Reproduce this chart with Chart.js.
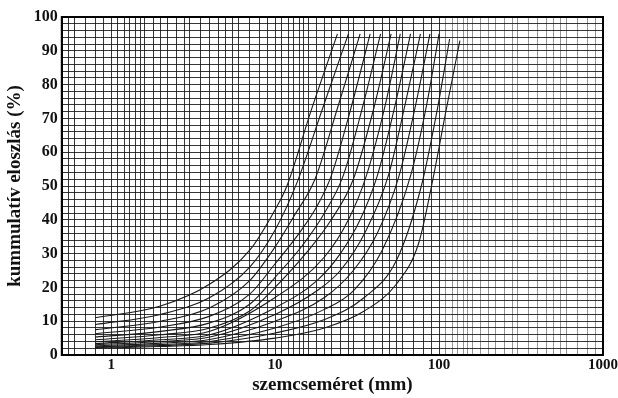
<!DOCTYPE html>
<html>
<head>
<meta charset="utf-8">
<script src="https://cdn.jsdelivr.net/npm/chart.js@4/dist/chart.umd.min.js"></script>
<style>
  html, body { margin: 0; padding: 0; background: #fff; overflow: hidden; }
  #wrap { width: 621px; height: 398px; }
</style>
</head>
<body>
<div id="wrap"><canvas id="grain-chart"></canvas></div>
<script>
// [grain size mm, cumulative %], left to right
const curve1 = [[0.8, 11], [2, 14.5], [4, 21], [7, 31], [10, 43], [11.8, 50], [16.5, 72], [24, 95]];
const curve2 = [[0.8, 9], [2, 12], [4, 17], [7, 26], [10, 37], [13.6, 51], [19.5, 73], [28, 95]];
const curve3 = [[0.8, 7.5], [2, 10], [4, 14], [7, 22], [10, 32], [13, 41], [17.5, 52], [24, 73], [33, 95]];
const curve4 = [[0.8, 6.3], [2, 8.3], [4, 11.5], [7, 18], [10, 27], [14, 36], [18, 44], [22, 53], [29, 73], [38, 95]];
const curve5 = [[0.8, 5.3], [2, 7], [4, 9.5], [7, 15], [10, 23], [15, 33], [20, 42], [26, 53], [34, 73], [44, 95]];
const curve6 = [[0.8, 4.5], [2, 6], [4, 8], [7, 13], [10, 20], [16, 31], [22, 40], [30, 52], [40, 73], [51, 95]];
const curve7 = [[0.8, 3.9], [2, 5.2], [4, 7], [10, 17], [20, 29], [28, 40], [36, 53], [47, 74], [58, 95]];
const curve8 = [[0.8, 3.4], [2, 4.5], [4, 6], [10, 14], [18, 22], [25, 30], [33, 40], [42, 53], [54, 74], [67, 95]];
const curve9 = [[0.8, 3.0], [2, 4], [4, 5.3], [10, 12], [18, 19], [25, 25], [36, 37], [49, 53], [62, 74], [77, 95]];
const curve10 = [[0.8, 2.7], [2, 3.5], [4, 4.6], [10, 10], [20, 17], [30, 25], [42, 36], [57, 53], [72, 74], [88, 95]];
const curve11 = [[0.8, 2.4], [2, 3.1], [4, 4], [10, 8], [20, 13.5], [30, 19], [45, 31], [67, 53], [84, 74], [100, 95]];
const curve12 = [[0.8, 2.2], [2, 2.8], [4, 3.5], [10, 6.5], [20, 10.5], [35, 17], [55, 28], [78, 50], [97, 72], [116, 93.5]];
const curve13 = [[0.8, 2.0], [2, 2.5], [4, 3.1], [10, 5], [20, 8], [35, 13], [55, 21], [75, 33], [90, 50], [110, 72], [134, 93]];
const curves = [curve1, curve2, curve3, curve4, curve5, curve6, curve7, curve8,
  curve9, curve10, curve11, curve12, curve13];

// log paper rulings within one decade (multiplied by 0.1, 1, 10, 100)
const decadeSteps = [1, 1.1, 1.2, 1.3, 1.4, 1.5, 1.6, 1.8, 2, 2.2, 2.5, 2.8, 3, 3.5, 4,
  4.5, 5, 5.5, 6, 7, 8, 9];
const decades = [0.1, 1, 10, 100];
const xLabels = [1, 10, 100, 1000];
const yLabels = [0, 10, 20, 30, 40, 50, 60, 70, 80, 90, 100];

const xMin = 0.5;
const xMax = 1000;

const xGrid = [];
decades.forEach((d) => {
  decadeSteps.forEach((s) => {
    const v = +(d * s).toPrecision(4);
    if (v >= xMin && v <= xMax) xGrid.push(v);
  });
});
xGrid.push(xMax);

const ink = "#1a1a1a";
const serif = `"Liberation Serif", "DejaVu Serif", serif`;

Chart.defaults.font.family = serif;
Chart.defaults.color = "#111";

new Chart(document.getElementById("grain-chart"), {
  type: "line",
  data: {
    datasets: curves.map((pts, i) => ({
      label: "görbe " + (i + 1),
      data: pts.map(([x, y]) => ({ x, y })),
      borderColor: ink,
      borderWidth: 1.1,
      pointRadius: 0,
      fill: false,
      cubicInterpolationMode: "monotone",
    })),
  },
  options: {
    responsive: true,
    maintainAspectRatio: false,
    animation: false,
    layout: { padding: { top: 17, right: 0, left: 4, bottom: 3 } },
    plugins: {
      legend: { display: false },
      tooltip: { enabled: false },
    },
    scales: {
      x: {
        type: "logarithmic",
        min: xMin,
        max: xMax,
        afterBuildTicks: (scale) => {
          scale.ticks = xGrid.map((v) => ({ value: v }));
        },
        border: { display: true, color: "#000", width: 2 },
        grid: {
          drawTicks: false,
          lineWidth: 1,
          color: (c) => {
            const v = c.tick && c.tick.value;
            if (v > 100) return "rgba(60,60,60,0.55)";
            return "rgba(20,20,20,0.85)";
          },
        },
        ticks: {
          autoSkip: false,
          maxRotation: 0,
          padding: 3,
          font: { size: 15, weight: "bold", lineHeight: 1 },
          callback: (v) => (xLabels.includes(v) ? String(v) : ""),
        },
        title: {
          display: true,
          text: "szemcseméret (mm)",
          font: { size: 19, weight: "bold", lineHeight: 1 },
          padding: { top: 0, bottom: 0 },
        },
      },
      y: {
        min: 0,
        max: 100,
        border: { display: true, color: "#000", width: 2 },
        grid: {
          drawTicks: false,
          lineWidth: 1,
          color: "rgba(20,20,20,0.85)",
        },
        ticks: {
          stepSize: 2,
          autoSkip: false,
          padding: 4,
          font: { size: 16, weight: "bold" },
          callback: (v) => (yLabels.includes(v) ? String(v) : ""),
        },
        title: {
          display: true,
          text: "kummulatív eloszlás (%)",
          font: { size: 19, weight: "bold" },
          padding: { top: 0, bottom: 3 },
        },
      },
    },
  },
  plugins: [{
    id: "frame",
    afterDraw(chart) {
      const { ctx, chartArea: a } = chart;
      ctx.save();
      ctx.strokeStyle = "#000";
      ctx.lineWidth = 2;
      ctx.strokeRect(a.left, a.top, a.right - a.left, a.bottom - a.top);
      ctx.restore();
    },
  }],
});
</script>
</body>
</html>
